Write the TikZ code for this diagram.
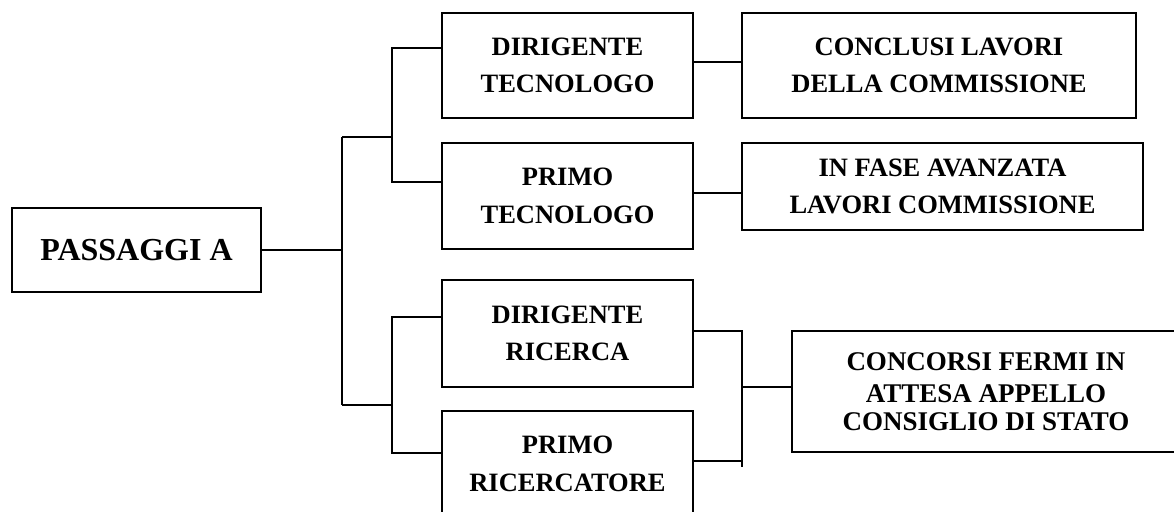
\documentclass[tikz,border=0pt]{standalone}
\usepackage{fontspec}
\setmainfont{Liberation Serif}
\begin{document}
\begin{tikzpicture}[x=1pt,y=-1pt,
    box/.style={draw, line width=2.2pt, align=center, inner sep=0pt,
        font=\bfseries\fontsize{26.5}{37.5}\selectfont},
    link/.style={line width=2pt}]
    \useasboundingbox (0,0) rectangle (1174,511);
    \clip (0,0) rectangle (1174,511);
    \node[box, minimum width=249pt, minimum height=84pt,
        font=\bfseries\fontsize{32}{40}\selectfont] (passaggi) at (136.5,250) {PASSAGGI A};
    \node[box, minimum width=251pt, minimum height=105pt] (dirtec) at (567.5,65.5) {DIRIGENTE\\TECNOLOGO};
    \node[box, minimum width=251pt, minimum height=106pt] (primotec) at (567.5,196) {PRIMO\\TECNOLOGO};
    \node[box, minimum width=251pt, minimum height=107pt] (dirric) at (567.5,333.5) {DIRIGENTE\\RICERCA};
    \node[box, minimum width=251pt, minimum height=106pt] (primoric) at (567.5,464) {PRIMO\\RICERCATORE};
    \node[box, minimum width=394pt, minimum height=105pt] (conclusi) at (939,65.5) {CONCLUSI LAVORI\\DELLA COMMISSIONE};
    \node[box, minimum width=401pt, minimum height=87pt] (infase) at (942.5,186.5) {IN FASE AVANZATA\\LAVORI COMMISSIONE};
    \node[box, minimum width=388pt, minimum height=121pt,
        font=\bfseries\fontsize{27}{28}\selectfont] (concorsi) at (986,391.5) {CONCORSI FERMI IN\\[4pt]ATTESA APPELLO\\CONSIGLIO DI STATO};
    \coordinate (hubT) at (342,137);
    \coordinate (hubB) at (342,405);
    \coordinate (jT) at (392,137);
    \coordinate (jB) at (392,405);
    \coordinate (jR) at (742,387);
    \coordinate (jRend) at (742,467);
    \draw[link] (passaggi.east) -- (passaggi.east -| hubT);
    \draw[link] (hubT) -- (hubB);
    \draw[link] (hubT) -- (jT);
    \draw[link] (hubB) -- (jB);
    \draw[link] ([yshift=17.5pt]dirtec.west) -| (jT) |- ([yshift=14pt]primotec.west);
    \draw[link] ([yshift=16.5pt]dirric.west) -| (jB) |- ([yshift=11pt]primoric.west);
    \draw[link] ([yshift=3.5pt]dirtec.east) -- ([yshift=3.5pt]dirtec.east -| conclusi.west);
    \draw[link] ([yshift=3pt]primotec.east) -- ([yshift=3pt]primotec.east -| infase.west);
    \draw[link] ([yshift=2.5pt]dirric.east) -| (jRend);
    \draw[link] ([yshift=3pt]primoric.east) -- ([yshift=3pt]primoric.east -| jRend);
    \draw[link] (jR) -- (jR -| concorsi.west);
\end{tikzpicture}
\end{document}
